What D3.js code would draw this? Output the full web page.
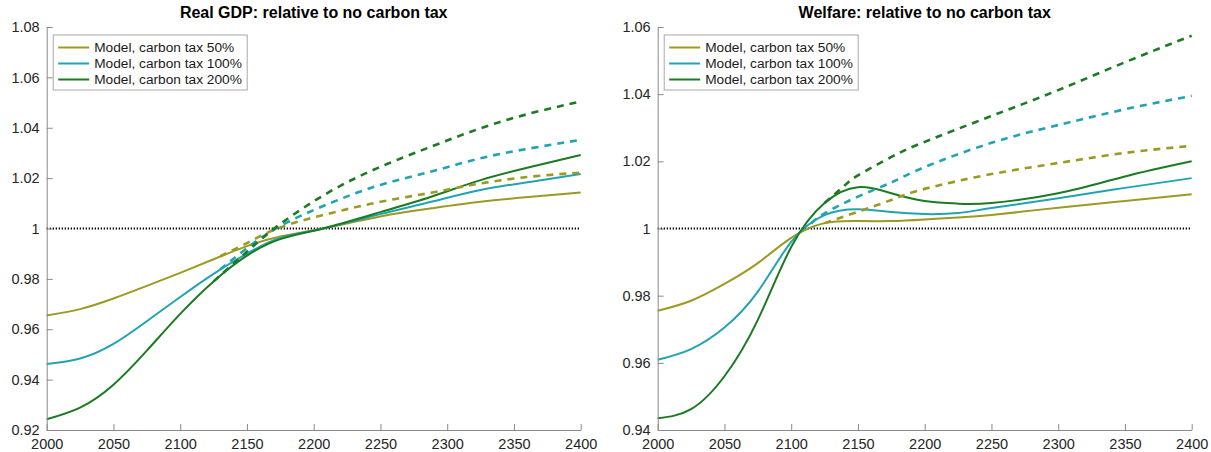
<!DOCTYPE html>
<html><head><meta charset="utf-8">
<script src="https://cdn.jsdelivr.net/npm/d3@7"></script>
<style>
body{margin:0;background:#fff;}
svg{display:block;font-family:"Liberation Sans",Arial,Helvetica,sans-serif;}
</style></head>
<body><svg id="c" width="1211" height="452"></svg>
<script>
// ---------- data ----------
const seriesNames = ["Model, carbon tax 50%", "Model, carbon tax 100%", "Model, carbon tax 200%"];
const seriesColors = ["#9c9a22", "#22a3b2", "#1b7a22"];
const xTicks = [2000, 2050, 2100, 2150, 2200, 2250, 2300, 2350, 2400];
const gdpYTicks = [0.92, 0.94, 0.96, 0.98, 1, 1.02, 1.04, 1.06, 1.08];
const welYTicks = [0.94, 0.96, 0.98, 1, 1.02, 1.04, 1.06];

// Real GDP, solid lines
const gdpYears = [2000, 2025, 2050, 2075, 2100, 2125, 2150, 2175, 2207, 2250, 2288, 2325, 2363, 2400];
const gdpTax50  = [0.9655, 0.9680, 0.9722, 0.9772, 0.9824, 0.9878, 0.9930, 0.9968, 1.0000, 1.0048, 1.0080, 1.0106, 1.0126, 1.0143];
const gdpTax100 = [0.9462, 0.9484, 0.9542, 0.9632, 0.9728, 0.9820, 0.9900, 0.9962, 1.0000, 1.0057, 1.0106, 1.0153, 1.0186, 1.0216];
const gdpTax200 = [0.9243, 0.9289, 0.9380, 0.9515, 0.9661, 0.9790, 0.9892, 0.9958, 1.0000, 1.0065, 1.0126, 1.0192, 1.0245, 1.0292];
// Real GDP, dashed lines
const gdpDashYears50  = [2130, 2150, 2175, 2212, 2250, 2288, 2325, 2363, 2400];
const gdpDash50       = [0.9890, 0.9942, 1.0004, 1.0060, 1.0106, 1.0142, 1.0179, 1.0206, 1.0222];
const gdpDashYears100 = [2130, 2150, 2175, 2212, 2250, 2288, 2325, 2363, 2400];
const gdpDash100      = [0.9838, 0.9922, 1.0010, 1.0100, 1.0173, 1.0226, 1.0279, 1.0319, 1.0352];
const gdpDashYears200 = [2125, 2150, 2175, 2212, 2250, 2288, 2325, 2363, 2400];
const gdpDash200      = [0.9790, 0.9908, 1.0018, 1.0146, 1.0245, 1.0325, 1.0398, 1.0458, 1.0504];

// Welfare, solid lines
const welYears = [2000, 2025, 2050, 2075, 2100, 2125, 2150, 2175, 2200, 2225, 2250, 2300, 2350, 2400];
const welTax50  = [0.9755, 0.9785, 0.9835, 0.9897, 0.9972, 1.0016, 1.0022, 1.0022, 1.0027, 1.0033, 1.0040, 1.0062, 1.0082, 1.0102];
const welTax100 = [0.9609, 0.9641, 0.9705, 0.9812, 0.9960, 1.0040, 1.0057, 1.0049, 1.0043, 1.0046, 1.0061, 1.0090, 1.0121, 1.0150];
const welTax200 = [0.9435, 0.9462, 0.9560, 0.9728, 0.9945, 1.0076, 1.0123, 1.0105, 1.0082, 1.0074, 1.0076, 1.0105, 1.0155, 1.0200];
// Welfare, dashed lines
const welDashYears50  = [2125, 2150, 2175, 2200, 2250, 2300, 2350, 2400];
const welDash50       = [1.0016, 1.0050, 1.0085, 1.0118, 1.0162, 1.0195, 1.0225, 1.0246];
const welDashYears100 = [2115, 2125, 2150, 2175, 2200, 2250, 2300, 2350, 2400];
const welDash100      = [1.0015, 1.0045, 1.0095, 1.0137, 1.0183, 1.0255, 1.0308, 1.0355, 1.0395];
const welDashYears200 = [2125, 2140, 2150, 2175, 2200, 2250, 2300, 2350, 2400];
const welDash200      = [1.0076, 1.0128, 1.0158, 1.0213, 1.0258, 1.0335, 1.0412, 1.0495, 1.0574];

// ---------- drawing ----------
const svg = d3.select("#c");
const zip = (xs, ys) => xs.map((x, i) => [x, ys[i]]);

function panel(opt) {
  const x = d3.scaleLinear().domain([2000, 2400]).range([opt.left, opt.right]);
  const y = d3.scaleLinear().domain(opt.yDomain).range([430, 27]);
  const g = svg.append("g");

  // dotted reference line at 1
  g.append("line")
    .attr("x1", x(2000)).attr("x2", x(2400))
    .attr("y1", y(1)).attr("y2", y(1))
    .attr("stroke", "#000").attr("stroke-width", 2.2)
    .attr("stroke-dasharray", "1.3,1.7");

  const line = d3.line().x(d => x(d[0])).y(d => y(d[1])).curve(d3.curveNatural);

  opt.solid.forEach((s, i) => {
    g.append("path").attr("d", line(zip(opt.solidYears, s)))
      .attr("fill", "none").attr("stroke", seriesColors[i]).attr("stroke-width", 2);
  });
  opt.dashed.forEach((s, i) => {
    g.append("path").attr("d", line(zip(s[0], s[1])))
      .attr("fill", "none").attr("stroke", seriesColors[i]).attr("stroke-width", 2.6)
      .attr("stroke-dasharray", "7,6");
  });

  // axes
  const xAxis = d3.axisBottom(x).tickValues(xTicks).tickFormat(d3.format("d")).tickSizeInner(-6).tickSizeOuter(0).tickPadding(9);
  const yAxis = d3.axisLeft(y).tickValues(opt.yTicks).tickFormat(d => d === 1 ? "1" : d3.format(".2f")(d)).tickSizeInner(-6).tickSizeOuter(0).tickPadding(7);
  const gx = g.append("g").attr("transform", `translate(0,${y(opt.yDomain[0])})`).call(xAxis);
  const gy = g.append("g").attr("transform", `translate(${x(2000)},0)`).call(yAxis);
  [gx, gy].forEach(a => {
    a.select(".domain").attr("stroke", "#8a8a8a").attr("stroke-width", 1);
    a.selectAll(".tick line").attr("stroke", "#8a8a8a");
    a.selectAll(".tick text").attr("fill", "#262626").style("font-size", "14.5px")
      .style("font-family", '"Liberation Sans",Arial,sans-serif');
  });

  // title
  g.append("text").attr("x", (opt.left + opt.right) / 2).attr("y", 18)
    .attr("text-anchor", "middle").style("font-weight", "bold").style("font-size", "16px")
    .attr("fill", "#000").text(opt.title);

  // legend
  const lx = opt.left + 6.5, ly = 35;
  const lg = g.append("g");
  lg.append("rect").attr("x", lx).attr("y", ly).attr("width", 194).attr("height", 55)
    .attr("fill", "#fff").attr("stroke", "#a8a8a8").attr("stroke-width", 1);
  seriesNames.forEach((n, i) => {
    const cy = ly + 12.5 + i * 16;
    lg.append("line").attr("x1", lx + 5).attr("x2", lx + 36).attr("y1", cy).attr("y2", cy)
      .attr("stroke", seriesColors[i]).attr("stroke-width", 2);
    lg.append("text").attr("x", lx + 41).attr("y", cy + 4.7).style("font-size", "13.7px")
      .attr("fill", "#1a1a1a").text(n);
  });
}

panel({
  left: 46.7, right: 580.7, yDomain: [0.92, 1.08], yTicks: gdpYTicks,
  title: "Real GDP: relative to no carbon tax",
  solidYears: gdpYears, solid: [gdpTax50, gdpTax100, gdpTax200],
  dashed: [[gdpDashYears50, gdpDash50], [gdpDashYears100, gdpDash100], [gdpDashYears200, gdpDash200]]
});
panel({
  left: 657.7, right: 1191.7, yDomain: [0.94, 1.06], yTicks: welYTicks,
  title: "Welfare: relative to no carbon tax",
  solidYears: welYears, solid: [welTax50, welTax100, welTax200],
  dashed: [[welDashYears50, welDash50], [welDashYears100, welDash100], [welDashYears200, welDash200]]
});
</script></body></html>
